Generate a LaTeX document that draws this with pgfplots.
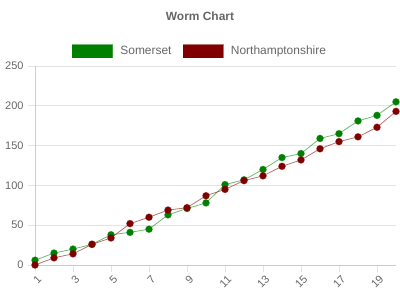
\documentclass[border=0pt]{standalone}
\usepackage{pgfplots}
\pgfplotsset{compat=1.18}
\usepackage{fontspec}
\setmainfont{Liberation Sans}
\definecolor{somer}{HTML}{008000}
\definecolor{north}{HTML}{800000}
\definecolor{txt}{HTML}{666666}
\definecolor{gridc}{HTML}{E3E3E3}
\definecolor{axc}{HTML}{CCCCCC}
\begin{document}
\begin{tikzpicture}
\path[use as bounding box] (-35bp,-35bp) rectangle (365bp,265bp);
\begin{axis}[
  scale only axis,
  width=361bp, height=199bp,
  xmin=1, xmax=20, ymin=0, ymax=250,
  axis x line*=bottom, axis y line*=left,
  axis line style={draw=axc, -},
  xtick={1,3,...,19}, ytick={0,50,...,250},
  tick align=outside,
  major tick length=7bp,
  tick style={draw=gridc, line width=0.8bp},
  ymajorgrids,
  grid style={draw=gridc, line width=0.8bp},
  /pgf/number format/assume math mode=true,
  ticklabel style={font=\fontsize{11}{13}\selectfont, text=txt},
  xticklabel style={rotate=45, anchor=east, xshift=3bp, yshift=-7bp},
  yticklabel style={xshift=-1bp},
  title={Worm Chart},
  title style={at={(0.457,1.22)}, anchor=center, font=\bfseries\fontsize{12}{14}\selectfont, text=txt},
  legend columns=2,
  legend style={at={(0.457,1.075)}, anchor=center, draw=none, fill=none,
    inner sep=0pt, font=\fontsize{12}{14}\selectfont, text=txt,
    /tikz/every even column/.append style={column sep=9bp}},
  legend image code/.code={\path[draw=none, fill=none] (0bp,0bp) -- (46bp,0bp);
     \fill[#1, fill opacity=1] (0bp,-6.5bp) rectangle (40bp,6.5bp);
     \draw[#1, draw opacity=0.5, line width=0.8bp] (0.4bp,-6.1bp) rectangle (39.6bp,6.1bp);},
  every axis plot/.append style={line width=0.8bp, draw opacity=0.55, mark=*, mark size=3.4bp,
    mark options={solid, draw opacity=0.5, fill opacity=1}},
  clip=false,
]
\addplot[color=somer] coordinates {
(1,6) (2,15) (3,20) (4,26) (5,38) (6,41) (7,45) (8,63) (9,71) (10,78)
(11,101) (12,107) (13,120) (14,135) (15,140) (16,159) (17,165) (18,181) (19,188) (20,205)
};
\addlegendentry{Somerset}
\addplot[color=north] coordinates {
(1,0) (2,9) (3,14) (4,26) (5,34) (6,52) (7,60) (8,69) (9,72) (10,87)
(11,95) (12,106) (13,112) (14,124) (15,132) (16,146) (17,155) (18,161) (19,173) (20,193)
};
\addlegendentry{Northamptonshire}
\end{axis}
\end{tikzpicture}
\end{document}
